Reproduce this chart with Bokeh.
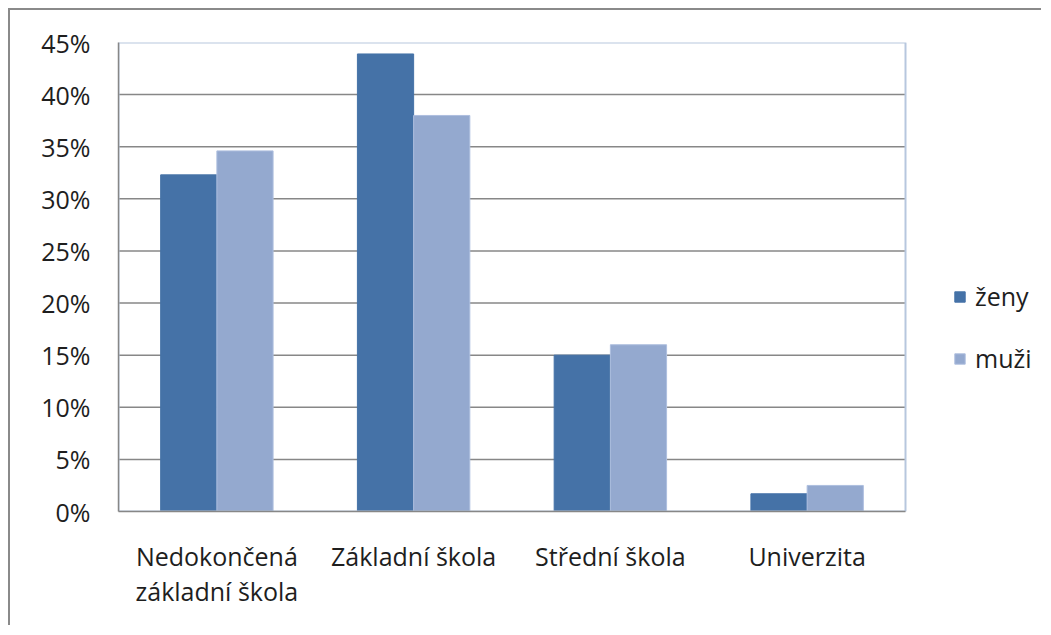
from bokeh.plotting import figure
from bokeh.layouts import column, row
from bokeh.models import (ColumnDataSource, Range1d, FixedTicker, NumeralTickFormatter,
                          Legend, LegendItem, Spacer)
from bokeh.transform import dodge
from bokeh.embed import file_html
from bokeh.resources import INLINE

categories = ["Nedokončená\nzákladní škola", "Základní škola", "Střední škola", "Univerzita"]
zeny = [0.323, 0.439, 0.150, 0.017]
muzi = [0.346, 0.380, 0.160, 0.025]
series_names = ["ženy", "muži"]
y_ticks = [0.0, 0.05, 0.10, 0.15, 0.20, 0.25, 0.30, 0.35, 0.40, 0.45]

DARK = "#4572A7"
LIGHT = "#94A9CF"
GRID = "#878787"
EDGE = "#b7c7de"
FONT = "Open Sans"
TXT = "#1e1e1e"

n = len(categories)
xs = [i + 0.5 for i in range(n)]
src = ColumnDataSource(dict(x=xs, cat=categories, zeny=zeny, muzi=muzi))

# plot area is 787px wide, the frame continues 138px further right to hold the legend
AREA_W, FRAME_W = 787, 925
p = figure(width=1033, height=617, x_range=Range1d(0, n * FRAME_W / AREA_W),
           y_range=Range1d(y_ticks[0], y_ticks[-1]), output_backend="svg", toolbar_location=None,
           min_border_left=108, min_border_right=0, min_border_top=32, min_border_bottom=116,
           styles={"border-left": "2px solid #8a8a8a", "border-top": "2px solid #8a8a8a"})
p.outline_line_color = None
p.background_fill_color = "white"
p.border_fill_color = "white"
p.xgrid.grid_line_color = None
p.ygrid.grid_line_color = None

# horizontal gridlines within the plot area
gy = y_ticks[1:-1]
p.segment(x0=[0] * len(gy), x1=[n] * len(gy), y0=gy, y1=gy, line_color=GRID, line_width=1.5)

bw = 0.2857
r1 = p.vbar(x=dodge("x", -bw / 2), top="zeny", width=bw, source=src,
            fill_color=DARK, line_color=DARK, line_width=1)
r2 = p.vbar(x=dodge("x", bw / 2), top="muzi", width=bw, source=src,
            fill_color=LIGHT, line_color="#aebfdf", line_width=1)

# plot-area border (left and bottom are covered by the axis lines)
p.quad(left=[0], right=[n], bottom=[y_ticks[0]], top=[y_ticks[-1]],
       fill_color=None, line_color=EDGE, line_width=2)

p.yaxis.ticker = FixedTicker(ticks=y_ticks)
p.yaxis.formatter = NumeralTickFormatter(format="0%")
p.xaxis.ticker = FixedTicker(ticks=xs)
p.xaxis.major_label_overrides = {x: c for x, c in zip(xs, categories)}
p.xaxis.bounds = (0, n)
for ax in (p.xaxis, p.yaxis):
    ax.axis_line_color = GRID
    ax.axis_line_width = 1.5
    ax.major_tick_line_color = None
    ax.minor_tick_line_color = None
    ax.major_tick_out = 0
    ax.major_tick_in = 0
    ax.major_label_text_font = FONT
    ax.major_label_text_font_size = "25px"
    ax.major_label_text_color = TXT
p.yaxis.major_label_standoff = 28
p.xaxis.major_label_standoff = 27
p.xaxis.major_label_text_line_height = 1.04

legend = Legend(items=[LegendItem(label=series_names[0], renderers=[r1]),
                       LegendItem(label=series_names[1], renderers=[r2])],
                location=(835, 136), orientation="vertical")
legend.border_line_color = None
legend.background_fill_alpha = 0
legend.padding = 0
legend.margin = 0
legend.glyph_width = 13
legend.glyph_height = 13
legend.label_standoff = 9
legend.spacing = 28
legend.label_text_font = FONT
legend.label_text_font_size = "25px"
legend.label_text_color = TXT
p.add_layout(legend, "center")

layout = column(Spacer(height=8), row(Spacer(width=8), p, spacing=0), spacing=0)

open("out.html", "w").write(file_html(layout, INLINE))
